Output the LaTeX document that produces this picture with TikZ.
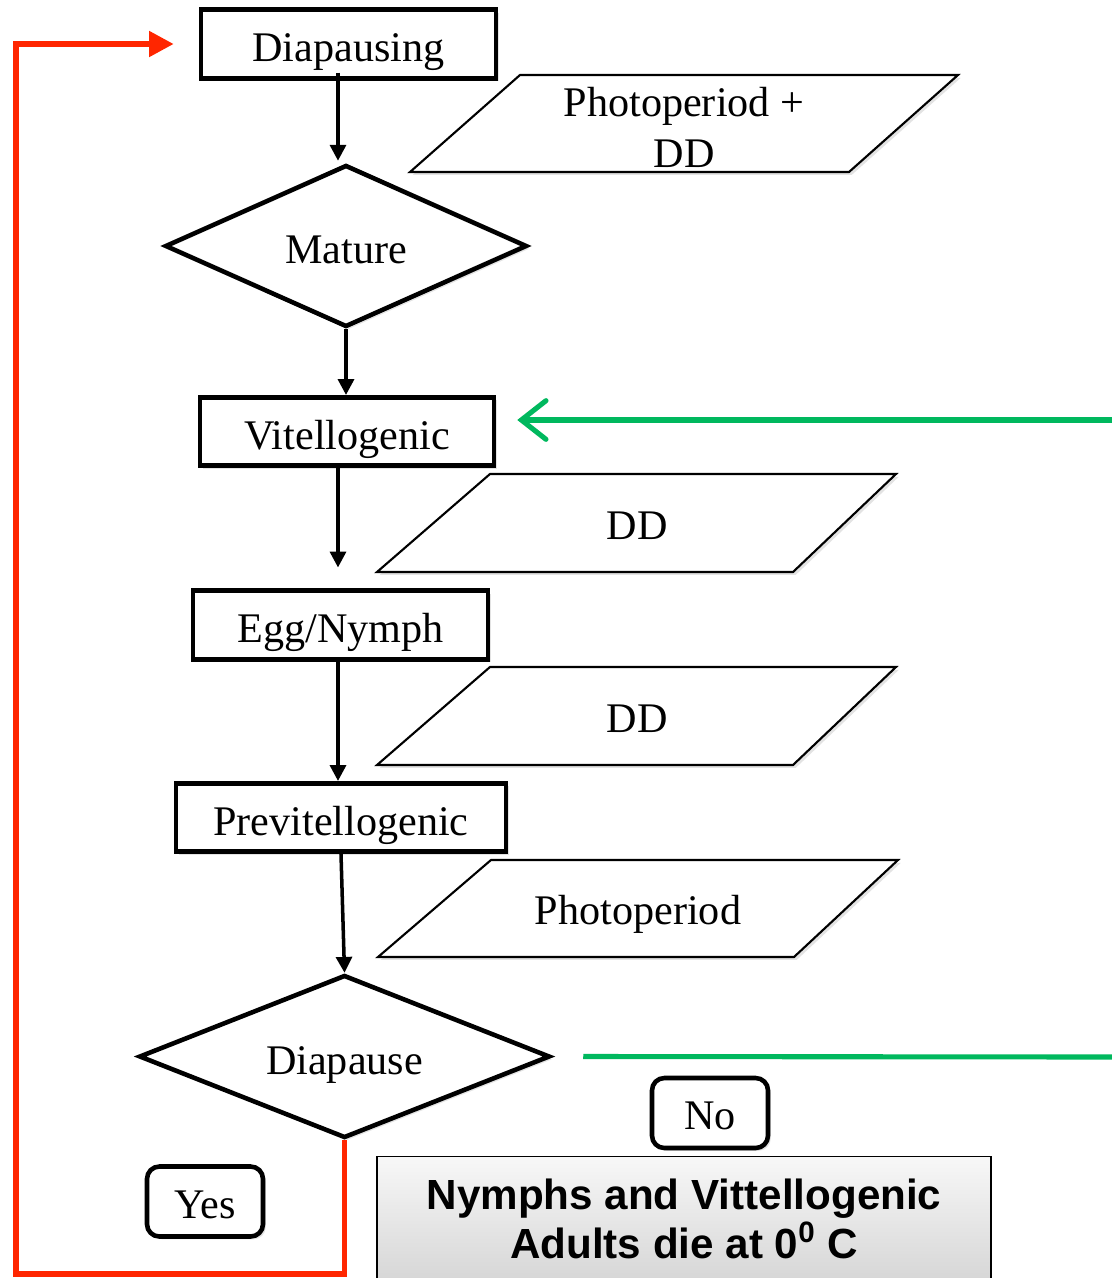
\documentclass[tikz,border=0pt]{standalone}
\usepackage{fontspec}
\setmainfont{Liberation Serif}
\newfontfamily\sansbold{Liberation Sans}
\usetikzlibrary{shapes.geometric,arrows.meta,shadows,calc}
\definecolor{myred}{RGB}{255,38,0}
\definecolor{mygreen}{RGB}{0,184,94}
\begin{document}
\begin{tikzpicture}[x=0.02cm,y=-0.02cm,
  font=\fontsize{24}{29}\selectfont,
  shad/.style={drop shadow={opacity=0.22,shadow xshift=1.6pt,shadow yshift=-1.6pt}},
  lowtext/.style={text height=20pt,text depth=0pt},
  stepbox/.style={draw,line width=2.6pt,rectangle,minimum height=1.37cm,inner sep=0pt,fill=white,shad,lowtext},
  decision/.style={draw,line width=2.6pt,diamond,aspect=2.5,inner sep=0pt,fill=white,shad,lowtext},
  answer/.style={draw,line width=2.6pt,rectangle,rounded corners=7pt,minimum width=2.32cm,minimum height=1.4cm,inner sep=0pt,fill=white,shad,text height=19pt,text depth=0pt},
  para/.style={draw,line width=1.2pt,fill=white,shad},
  arr/.style={draw,line width=2pt,-{Triangle[length=9pt,width=9pt]}},
  redline/.style={draw=myred,line width=3.3pt,-{Triangle[length=14pt,width=14pt]}},
  greenline/.style={draw=mygreen,line width=2.9pt,line cap=round},
]
\useasboundingbox (0,0) rectangle (1112,1278);

% parallelograms (inputs)
\draw[para] (520,75) -- (958,75) -- (849,172) -- (410,172) -- cycle;
\node[align=center] (ppdd) at (684,127) {Photoperiod +\\DD};
\draw[para] (490,474) -- (896,474) -- (793,572) -- (377,572) -- cycle;
\node (dd1) at (637,526) {DD};
\draw[para] (490,667) -- (896,667) -- (793,765) -- (377,765) -- cycle;
\node (dd2) at (637,719) {DD};
\draw[para] (491,860) -- (898,860) -- (794,957) -- (378,957) -- cycle;
\node (pp) at (638,914) {Photoperiod};

% main flow
\node[stepbox,minimum width=5.9cm] (diap) at (348.5,44) {Diapausing};
\node[decision,minimum width=7.24cm,minimum height=3.24cm] (mature) at (346,246) {Mature};
\node[stepbox,minimum width=5.88cm] (vit) at (347,431.5) {Vitellogenic};
\node[stepbox,minimum width=5.9cm] (egg) at (340.5,625) {Egg/Nymph};
\node[stepbox,minimum width=6.6cm] (prev) at (341,817.5) {Previtellogenic};
\node[decision,minimum width=8.22cm,minimum height=3.26cm] (dpause) at (344.5,1056.5) {Diapause};

\node[answer] (no) at (710,1113) {No};
\node[answer] (yes) at (205,1201.5) {Yes};

\node[draw,line width=1.1pt,top color=gray!6,bottom color=gray!32,minimum width=12.28cm,minimum height=2.5cm,inner sep=0pt,align=center,font=\sansbold\bfseries\fontsize{24}{28}\selectfont] (note) at (684,1219) {Nymphs and Vittellogenic\\Adults die at 0\textsuperscript{0} C};

% connectors
\coordinate (a1s) at ($(diap.south)+(-10.5,-8)$);
\draw[arr] (a1s) -- ($(a1s |- mature.north)+(0,-2)$);
\draw[arr] (mature.south) -- (mature.south |- vit.north);
\coordinate (a3s) at ($(vit.south)+(-9,-4)$);
\draw[arr] (a3s) -- ($(a3s |- egg.north)+(0,-21)$);
\coordinate (a4s) at ($(egg.south)+(-2.5,0)$);
\draw[arr] (a4s) -- (a4s |- prev.north);
\draw[arr] (prev.south) -- (dpause.north);

% red loop (Yes)
\coordinate (rbl) at (16,1274);
\coordinate (rtip) at ($(diap.west)+(-25,0)$);
\draw[redline] (dpause.south) |- (rbl) |- (rtip);

% green lines (No)
\coordinate (gin) at (1112,420);
\coordinate (gtip) at ($(vit.east)+(21,-11.5)$);
\draw[greenline,-{Straight Barb[length=14pt,width=22pt,line cap=round]}] (gin) -- (gtip);
\coordinate (gout) at (1112,1057);
\draw[greenline,line cap=butt] ($(dpause.east)+(31,0)$) -- (gout);
\end{tikzpicture}
\end{document}
